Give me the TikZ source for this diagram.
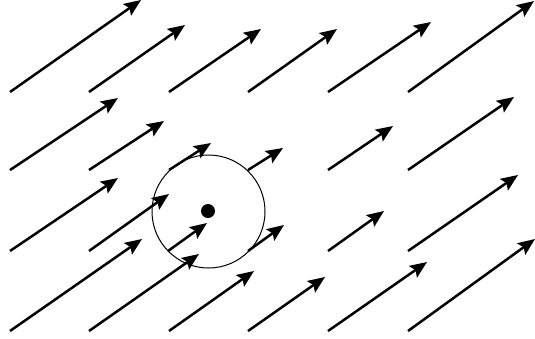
\documentclass[tikz,border=0pt]{standalone}
\usepackage{tikz}
\usetikzlibrary{arrows.meta}

\begin{document}
\begin{tikzpicture}[x=1pt, y=-1pt,
    vec/.style={-{Stealth[length=17pt, width=14pt, inset=3pt]}, line width=2.5pt}]
        % Frame of the picture
        \useasboundingbox (0,0) rectangle (535,338);

        % Row 1 (top)
        \draw[vec] (10,92) -- (141,0);
        \draw[vec] (89,92) -- (185,25);
        \draw[vec] (169,92) -- (261,29);
        \draw[vec] (248,92) -- (337,29);
        \draw[vec] (328,92) -- (431,22);
        \draw[vec] (408,92) -- (534,1);

        % Row 2
        \draw[vec] (10,170) -- (118,98);
        \draw[vec] (89,170) -- (164,121);
        \draw[vec] (169,170) -- (211,143);
        \draw[vec] (248,170) -- (283,148);
        \draw[vec] (328,170) -- (393,126);
        \draw[vec] (408,170) -- (514,97);

        % Row 3
        \draw[vec] (10,251) -- (118,178);
        \draw[vec] (89,251) -- (169,194);
        \draw[vec] (168,251) -- (207,223);
        \draw[vec] (248,251) -- (284,225);
        \draw[vec] (328,251) -- (384,211);
        \draw[vec] (408,251) -- (518,175);

        % Row 4 (bottom)
        \draw[vec] (10,331) -- (142,239);
        \draw[vec] (89,331) -- (199,254);
        \draw[vec] (169,331) -- (254,271);
        \draw[vec] (248,331) -- (325,277);
        \draw[vec] (328,331) -- (427,262);
        \draw[vec] (408,331) -- (535,239);

        % Window and centre point
        \draw[line width=1pt] (208.5,211.5) circle (56.5);
        \fill (208,211) circle (7);
      \end{tikzpicture}
\end{document}
